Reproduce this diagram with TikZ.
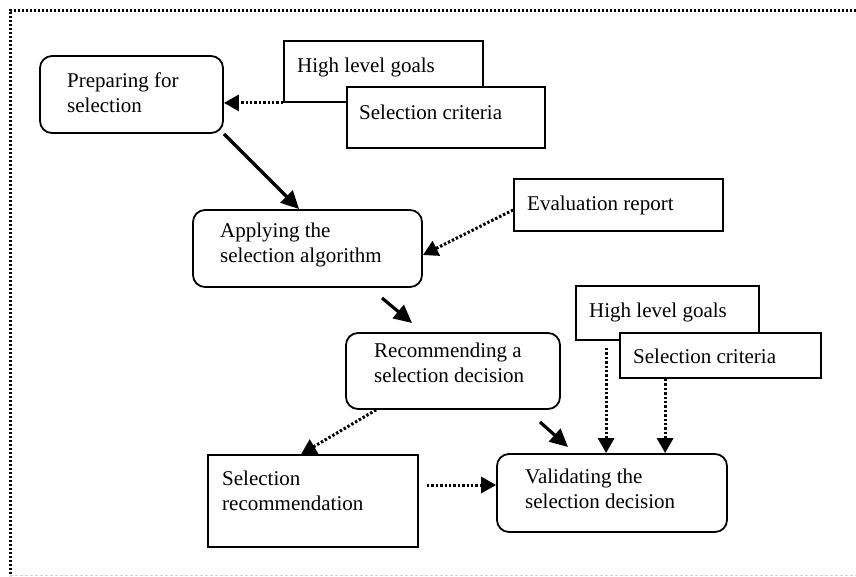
\documentclass[tikz,border=0pt]{standalone}
\usepackage{fontspec}
\setmainfont{Liberation Serif}
\usetikzlibrary{arrows.meta}
\newcommand{\twoline}[2]{\begin{tabular}[t]{@{}l@{}}#1\\#2\end{tabular}}
\begin{document}
\begin{tikzpicture}[x=1pt,y=-1pt,
  font=\fontsize{21}{25}\selectfont,
  rbox/.style={draw, line width=1.8pt, rounded corners=12pt, inner sep=0pt, fill=white},
  sbox/.style={draw, line width=1.8pt, inner sep=0pt, fill=white},
  txt/.style={anchor=base west, inner sep=0pt},
  thickarrow/.style={line width=3.2pt, -{Triangle[length=18pt,width=17pt]}},
  dotarrow/.style={line width=3pt, dash pattern=on 2.4pt off 2pt, -{Triangle[length=15pt,width=16pt]}},
  frameline/.style={line width=3pt, dash pattern=on 2.4pt off 1.6pt}
  ]
\useasboundingbox (0,0) rectangle (856,576);
% frame
\draw[frameline] (856,10) -- (10,10) -- (10,576);
\draw[gray!35, line width=0.8pt, dash pattern=on 3pt off 2pt] (10,575) -- (856,575);

% boxes
\node[rbox, minimum width=183pt, minimum height=77pt] (prep) at (131.5,94.5) {};
\node[txt] (tprep) at (67,87) {\twoline{Preparing for}{selection}};
\node[sbox, minimum width=199pt, minimum height=61pt] (hlg1) at (383.5,71.5) {};
\node[txt] (thlg1) at (297,72) {High level goals};
\node[sbox, minimum width=198pt, minimum height=61pt] (sc1) at (446,117.5) {};
\node[txt] (tsc1) at (359,119) {Selection criteria};
\node[rbox, minimum width=229pt, minimum height=77pt] (apply) at (307.5,248.5) {};
\node[txt] (tapply) at (220,237) {\twoline{Applying the}{selection algorithm}};
\node[sbox, minimum width=209pt, minimum height=52pt] (eval) at (618.5,205) {};
\node[txt] (teval) at (527,210) {Evaluation report};
\node[rbox, minimum width=214pt, minimum height=76pt] (rec) at (453,371) {};
\node[txt] (trec) at (374,357) {\twoline{Recommending a}{selection decision}};
\node[sbox, minimum width=183pt, minimum height=54pt] (hlg2) at (667.5,313) {};
\node[txt] (thlg2) at (589,317) {High level goals};
\node[sbox, minimum width=201pt, minimum height=45pt] (sc2) at (720.5,355.5) {};
\node[txt] (tsc2) at (633,363) {Selection criteria};
\node[sbox, minimum width=210pt, minimum height=92pt] (selrec) at (313,501) {};
\node[txt] (tselrec) at (222,485) {\twoline{Selection}{recommendation}};
\node[rbox, minimum width=230pt, minimum height=78pt] (valid) at (612,493) {};
\node[txt] (tvalid) at (525,483) {\twoline{Validating the}{selection decision}};

% connectors
\draw[dotarrow] (hlg1.south west) -- (prep.east |- hlg1.south west);
\draw[thickarrow] (prep.south east) -- ([xshift=107pt]apply.north west);
\draw[dotarrow] ([yshift=-5pt]eval.west) -- ([yshift=-6.5pt]apply.east);
\coordinate (a4s) at (382,298);
\coordinate (a4e) at (412,323);
\draw[thickarrow] (a4s) -- (a4e);
\draw[dotarrow] ([xshift=31pt]rec.south west) -- ([xshift=94pt]selrec.north west);
\coordinate (a6s) at (540,422);
\coordinate (a6e) at (568,447);
\draw[thickarrow] (a6s) -- (a6e);
\draw[dotarrow] ([xshift=31pt,yshift=-7pt]hlg2.south west) -- ([xshift=110pt]valid.north west);
\draw[dotarrow] ([xshift=46pt]sc2.south west) -- ([xshift=169pt]valid.north west);
\coordinate (a9s) at ([xshift=8pt,yshift=16pt]selrec.east);
\draw[dotarrow] (a9s) -- (valid.west |- a9s);
\end{tikzpicture}
\end{document}
